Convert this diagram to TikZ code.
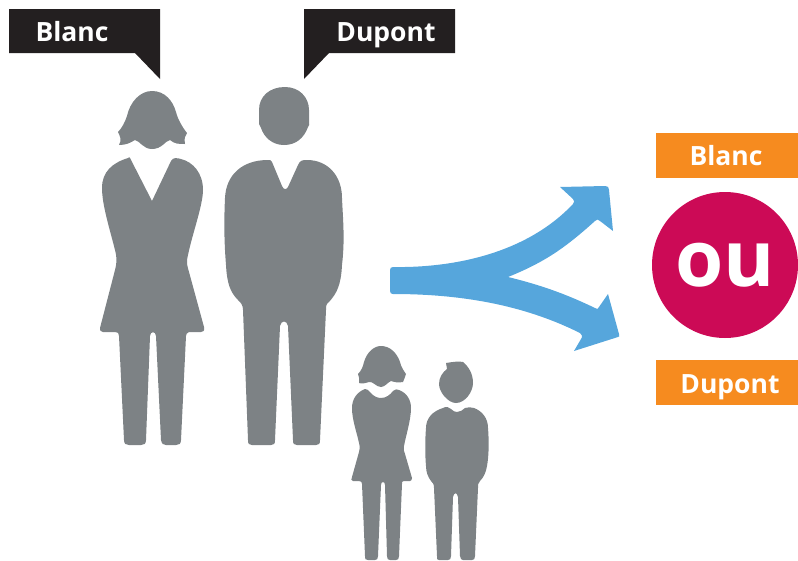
\documentclass[tikz,border=0pt]{standalone}
\usepackage{fontspec}
\setmainfont{Open Sans}
\definecolor{figgray}{HTML}{7D8285}
\definecolor{armblue}{HTML}{56A6DC}
\definecolor{tagdark}{HTML}{231F20}
\definecolor{tagorange}{HTML}{F68B1F}
\definecolor{discred}{HTML}{CC0A56}
\tikzset{
  x=1pt,y=-1pt,
  figure/.style={fill=figgray,draw=none},
  arm/.style={fill=armblue,draw=none},
  callout/.style={fill=tagdark,draw=none},
  calltext/.style={text=white,font=\bfseries\fontsize{26.5}{30}\selectfont,anchor=base,inner sep=0pt},
  tagbox/.style={fill=tagorange,draw=none},
  tagtext/.style={text=white,font=\bfseries\fontsize{26.5}{30}\selectfont,anchor=base,inner sep=0pt},
}
\begin{document}
\begin{tikzpicture}
\useasboundingbox (0,0) rectangle (798,560);
% callouts
\fill[callout] (9,9) -- (160,9) -- (160,79) -- (135,53) -- (9,53) -- cycle;
\node[calltext] (blanc1) at (72,41) {Blanc};
\fill[callout] (304,9) -- (455,9) -- (455,53) -- (329,53) -- (304,79) -- cycle;
\node[calltext] (dupont1) at (386,41) {Dupont};
% woman head
\fill[figure] (118,132) .. controls (122,128) and (125,122) .. (127,116)
  .. controls (130,102) and (140,91) .. (152,91)
  .. controls (165,91) and (173,101) .. (176,112)
  .. controls (178,120) and (183,128) .. (187,133)
  .. controls (185,136) and (184,138) .. (185,144)
  .. controls (178,144) and (175,144) .. (170,140)
  .. controls (165,141) and (162,149) .. (152,149)
  .. controls (143,149) and (140,141) .. (135,140)
  .. controls (130,143) and (126,145) .. (119,145)
  .. controls (122,140) and (120,136) .. (118,132) -- cycle;
% woman body
\fill[figure] (130,158) -- (152,201) -- (171,161)
  .. controls (173,157) and (177,158) .. (181,159)
  .. controls (193,162) and (203,173) .. (203,190)
  .. controls (203,205) and (192,235) .. (188,255)
  .. controls (186,262) and (187,265) .. (189,272)
  -- (204,327) .. controls (205,331) and (203,332) .. (201,332)
  -- (189,332) .. controls (187,333) and (186,334) .. (186,336)
  -- (181,440) .. controls (181,444) and (179,445) .. (176,445)
  -- (166,445) .. controls (163,445) and (162,444) .. (161,440)
  -- (156,336) .. controls (156,331) and (150,331) .. (150,336)
  -- (146,440) .. controls (146,444) and (144,445) .. (141,445)
  -- (129,445) .. controls (126,445) and (124,444) .. (124,440)
  -- (119,336) .. controls (119,333) and (118,332) .. (115,332)
  -- (103,332) .. controls (100,332) and (100,330) .. (100,328)
  -- (115,270) .. controls (117,262) and (117,258) .. (115,250)
  .. controls (110,230) and (102,205) .. (102,188)
  .. controls (102,172) and (112,163) .. (128,158)
  .. controls (129,157) and (130,157) .. (130,158) -- cycle;
% man head
\fill[figure] (259,110) .. controls (259,96) and (270,87) .. (285,87)
  .. controls (299,87) and (309,97) .. (309,110)
  -- (309,122) .. controls (310,124) and (309,126) .. (308,127)
  .. controls (304,138) and (296,145) .. (284,145)
  .. controls (272,145) and (264,137) .. (261,128)
  -- (259,124) -- cycle;
% man body
\fill[figure] (268,160) .. controls (270,160) and (271,160) .. (272,162)
  -- (282,186) .. controls (284,190) and (286,190) .. (288,187)
  -- (298,165) .. controls (300,160) and (303,160) .. (307,160)
  .. controls (328,160) and (342,176) .. (342,198)
  .. controls (343,220) and (345,240) .. (342,265)
  .. controls (341,285) and (337,293) .. (329,302)
  .. controls (326,304) and (326,306) .. (326,310)
  -- (320,440) .. controls (320,444) and (319,445) .. (316,445)
  -- (297,445) .. controls (294,445) and (293,444) .. (293,440)
  -- (288,326) .. controls (287,320) and (281,320) .. (280,326)
  -- (275,440) .. controls (275,444) and (274,445) .. (271,445)
  -- (252,445) .. controls (249,445) and (248,444) .. (248,440)
  -- (243,310) .. controls (243,305) and (241,303) .. (238,300)
  .. controls (230,292) and (227,283) .. (226,265)
  .. controls (224,240) and (224,220) .. (225,198)
  .. controls (226,175) and (242,160) .. (268,160) -- cycle;
% girl head
\fill[figure] (358,374) .. controls (361,371) and (363,367) .. (364,362)
  .. controls (367,352) and (374,346) .. (381,346)
  .. controls (390,346) and (397,353) .. (400,362)
  .. controls (401,367) and (404,371) .. (406,374)
  .. controls (405,377) and (404,380) .. (403,382)
  .. controls (398,383) and (394,382) .. (391,381)
  .. controls (388,382) and (385,387) .. (381,387)
  .. controls (376,387) and (373,381) .. (369,382)
  .. controls (366,383) and (362,384) .. (359,383)
  .. controls (360,380) and (359,377) .. (358,374) -- cycle;
% girl body
\fill[figure] (365,389) .. controls (367,389) and (368,390) .. (370,392)
  .. controls (373,396) and (377,398) .. (381,398)
  .. controls (386,398) and (390,395) .. (393,391)
  .. controls (395,389) and (397,389) .. (399,390)
  .. controls (407,393) and (411,400) .. (411,408)
  .. controls (411,420) and (406,435) .. (404,446)
  .. controls (403,449) and (404,451) .. (405,454)
  -- (412,478) .. controls (412,480) and (411,481) .. (410,481)
  -- (404,481) .. controls (402,481) and (402,482) .. (402,484)
  -- (399,556) .. controls (399,559) and (398,560) .. (396,560)
  -- (390,560) .. controls (388,560) and (387,559) .. (387,556)
  -- (385,485) .. controls (385,481) and (381,481) .. (381,485)
  -- (378,556) .. controls (378,559) and (377,560) .. (375,560)
  -- (368,560) .. controls (365,560) and (365,559) .. (365,556)
  -- (362,484) .. controls (362,482) and (361,481) .. (359,481)
  -- (353,481) .. controls (351,481) and (351,479) .. (352,477)
  -- (359,452) .. controls (360,449) and (360,447) .. (359,443)
  .. controls (357,433) and (352,420) .. (352,408)
  .. controls (352,399) and (357,392) .. (365,389) -- cycle;
% boy head
\fill[figure] (446,363) .. controls (452,362) and (459,361) .. (463,362)
  .. controls (469,367) and (473,374) .. (473,383)
  .. controls (473,392) and (465,403) .. (456,403)
  .. controls (448,403) and (439,392) .. (439,384)
  .. controls (439,377) and (443,372) .. (447,369) -- cycle;
% boy body
\fill[figure] (443,408) .. controls (446,406) and (449,407) .. (451,409)
  .. controls (453,411) and (455,412) .. (457,412)
  .. controls (460,412) and (463,410) .. (465,408)
  .. controls (468,407) and (471,407) .. (474,408)
  .. controls (482,411) and (488,418) .. (488,428)
  .. controls (489,440) and (489,455) .. (487,466)
  .. controls (486,472) and (484,477) .. (480,481)
  .. controls (478,483) and (478,485) .. (478,488)
  -- (475,556) .. controls (475,559) and (474,560) .. (472,560)
  -- (463,560) .. controls (461,560) and (461,559) .. (460,556)
  -- (458,497) .. controls (457,492) and (454,492) .. (453,497)
  -- (451,556) .. controls (451,559) and (450,560) .. (448,560)
  -- (439,560) .. controls (437,560) and (437,559) .. (437,556)
  -- (434,488) .. controls (434,484) and (433,483) .. (431,481)
  .. controls (428,477) and (426,472) .. (426,466)
  .. controls (425,455) and (425,440) .. (426,428)
  .. controls (426,418) and (433,411) .. (443,408) -- cycle;
% forked arrow
\fill[arm] (393,267) .. controls (450,268) and (525,255) .. (573,204)
  .. controls (575,202) and (574,201) .. (573,199)
  -- (560,187) -- (605,186) .. controls (608,186) and (609,187) .. (609,190)
  -- (613,231) -- (600,221) .. controls (598,219) and (597,219) .. (595,221)
  .. controls (565,248) and (545,262) .. (508,277)
  .. controls (545,286) and (570,296) .. (595,308)
  .. controls (597,310) and (598,309) .. (599,307)
  -- (608,294) -- (619,334)
  .. controls (620,336) and (619,337) .. (618,337)
  -- (574,351) -- (581,339) .. controls (583,336) and (582,335) .. (580,333)
  .. controls (530,308) and (470,294) .. (393,294)
  .. controls (391,294) and (390,293) .. (390,291)
  -- (390,270) .. controls (390,268) and (391,267) .. (393,267) -- cycle;
% right
\fill[tagbox] (656,133) rectangle (798,178);
\node[tagtext] (blanc2) at (726,165) {Blanc};
\fill[discred] (725,265) circle (73);
\node[text=white,font=\bfseries\fontsize{78}{88}\selectfont,inner sep=0pt,anchor=base] (ou) at (725,286) {ou};
\fill[tagbox] (656,360) rectangle (798,405);
\node[tagtext] (dupont2) at (730,393) {Dupont};
\end{tikzpicture}
\end{document}
